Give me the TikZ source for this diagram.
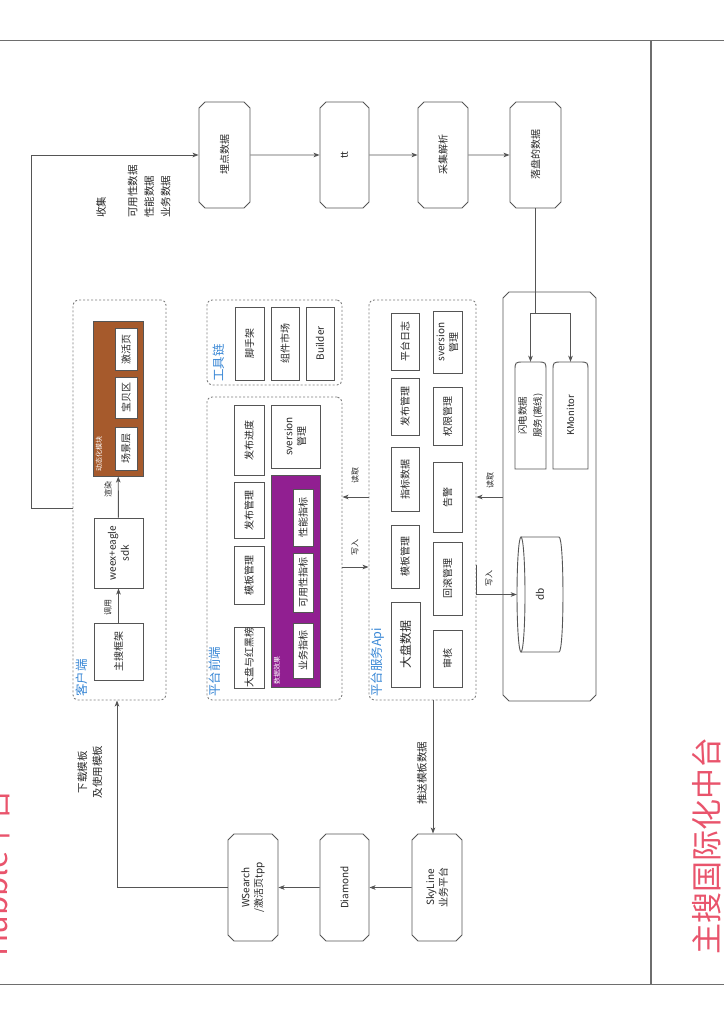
\documentclass[tikz,border=0pt]{standalone}
\usepackage{fontspec}
\setmainfont{Noto Sans CJK SC}
\usetikzlibrary{shapes.misc,arrows.meta,calc}
\definecolor{lc}{RGB}{85,85,85}
\definecolor{tc}{RGB}{40,40,40}
\definecolor{framec}{RGB}{110,110,110}
\definecolor{bluet}{RGB}{58,136,214}
\definecolor{redt}{RGB}{233,84,108}
\definecolor{brownf}{RGB}{166,90,44}
\definecolor{purplef}{RGB}{145,31,145}
\definecolor{grp}{RGB}{125,125,125}
\begin{document}
\begin{tikzpicture}[x=1pt,y=-1pt,
 line/.style={draw=lc, line width=0.9pt},
 arr/.style={line, -{Stealth[length=6pt,width=4.5pt,inset=1.5pt]}},
 txt/.style={text=tc, font=\fontsize{10}{13}\selectfont, align=center, inner sep=0pt},
 rbox/.style={txt, draw=lc, line width=0.9pt, rotate=90, fill=white},
 cbox/.style={rbox, chamfered rectangle, chamfered rectangle xsep=3pt, chamfered rectangle ysep=3pt},
 grpbox/.style={draw=grp, line width=0.9pt, dash pattern=on 2pt off 2pt, rounded corners=5pt, inner sep=0pt},
 glabel/.style={rotate=90, anchor=north west, inner sep=0pt, text=bluet, font=\fontsize{12.5}{14}\selectfont},
 lbl/.style={txt, rotate=90, font=\fontsize{8}{10}\selectfont},
 blbl/.style={txt, rotate=90, font=\fontsize{10.5}{15}\selectfont},
 wlbl/.style={rotate=90, anchor=west, inner sep=0pt, text=white, font=\fontsize{7}{8}\selectfont},
 title/.style={rotate=90, inner sep=0pt, text=redt, font=\fontsize{31}{34}\selectfont}
]
\useasboundingbox (0,0) rectangle (724,1024);
\fill[white] (0,0) rectangle (724,1024);
% frame
\draw[draw=framec, line width=1pt] (0,41) -- (724,41);
\draw[draw=framec, line width=1pt] (0,984) -- (724,984);
\draw[draw=framec, line width=1.4pt] (651,41) -- (651,984);
% titles
\node[title] (t1) at (707,846) {主搜国际化中台};
\begin{scope}
\clip (0,0) rectangle (724,1024);
\node[title] (t2) at (-4,873) {Hubble平台};
\end{scope}

% groups
\node[grpbox, minimum width=93pt, minimum height=400pt] (khd) at (119.5,500) {};
\node[grpbox, minimum width=135pt, minimum height=85pt] (gjl) at (274.5,342.5) {};
\node[grpbox, minimum width=135pt, minimum height=303pt] (ptqd) at (274.5,548.5) {};
\node[grpbox, minimum width=107pt, minimum height=400pt] (api) at (422.5,500) {};
\node[inner sep=0pt, minimum width=93pt, minimum height=409pt] (big) at (549.5,496.5) {};
\draw[line] (509,292) -- (590,292) -- (596,298) -- (596,695) -- (590,701) -- (509,701) -- (503,695) -- (503,298) -- cycle;

\node[glabel] (g1) at (76,697) {客户端};
\node[glabel] (g2) at (209,697) {平台前端};
\node[glabel] (g3) at (213,382) {工具链};
\node[glabel] (g4) at (371,697) {平台服务Api};

% top row
\node[cbox, minimum width=106pt, minimum height=51pt] (md) at (224.5,155) {埋点数据};
\node[cbox, minimum width=106pt, minimum height=49pt] (tt) at (344.5,155) {tt};
\node[cbox, minimum width=106pt, minimum height=50pt] (cj) at (443,155) {采集解析};
\node[cbox, minimum width=106pt, minimum height=51pt] (lp) at (535.5,155) {落盘的数据};

% bottom row
\node[cbox, minimum width=107pt, minimum height=50pt] (ws) at (253,887.5) {WSearch\\/激活页tpp};
\node[cbox, minimum width=107pt, minimum height=49pt] (dm) at (344.5,887.5) {Diamond};
\node[cbox, minimum width=107pt, minimum height=50pt] (sk) at (437,887.5) {SkyLine\\业务平台};

% client
\node[rbox, minimum width=57pt, minimum height=49pt] (zs) at (118.5,651.5) {主搜框架};
\node[rbox, minimum width=70pt, minimum height=49pt] (wx) at (118.5,553) {weex+eagle\\sdk};
\node[rbox, fill=brownf, minimum width=155pt, minimum height=50pt] (dt) at (118,398.5) {};
\node[wlbl] (dtl) at (99,472) {动态化模块};
\node[rbox, minimum width=43pt, minimum height=22pt] (cjc) at (126,448.5) {场景层};
\node[rbox, minimum width=41pt, minimum height=22pt] (bbq) at (126,397.5) {宝贝区};
\node[rbox, minimum width=42pt, minimum height=22pt] (jhy) at (126,349) {激活页};

% toolchain
\node[rbox, minimum width=73pt, minimum height=29pt] (jsj) at (249.5,343.5) {脚手架};
\node[rbox, minimum width=73pt, minimum height=28pt] (zjsc) at (285,343.5) {组件市场};
\node[rbox, minimum width=73pt, minimum height=28pt] (bld) at (320,343.5) {Builder};

% front end
\node[rbox, minimum width=70pt, minimum height=30pt] (fbjd) at (249,440) {发布进度};
\node[rbox, minimum width=56pt, minimum height=30pt] (fbgl) at (249,510) {发布管理};
\node[rbox, minimum width=58pt, minimum height=30pt] (mbgl) at (249,575) {模板管理};
\node[rbox, minimum width=61pt, minimum height=30pt] (dphb) at (249,657.5) {大盘与红黑榜};
\node[rbox, minimum width=63pt, minimum height=49pt] (svf) at (295.5,436.5) {sversion\\管理};
\node[rbox, fill=purplef, minimum width=212pt, minimum height=49pt] (sjxg) at (295.5,581) {};
\node[wlbl] (sjl) at (277,685) {数据效果};
\node[rbox, minimum width=57pt, minimum height=20pt] (xnzb) at (303,517.5) {性能指标};
\node[rbox, minimum width=59pt, minimum height=20pt] (kyzb) at (303,582.5) {可用性指标};
\node[rbox, minimum width=55pt, minimum height=20pt] (ywzb) at (303,650.5) {业务指标};

% api
\node[rbox, minimum width=57pt, minimum height=28pt] (ptrz) at (405,341.5) {平台日志};
\node[rbox, minimum width=57pt, minimum height=28pt] (fbgl2) at (405,406.5) {发布管理};
\node[rbox, minimum width=64pt, minimum height=28pt] (zbsj) at (405,479) {指标数据};
\node[rbox, minimum width=63pt, minimum height=28pt] (mbgl2) at (405,556.5) {模板管理};
\node[rbox, minimum width=85pt, minimum height=29pt, font=\fontsize{12}{14}\selectfont] (dpsj) at (405.5,644.5) {大盘数据};
\node[rbox, minimum width=62pt, minimum height=29pt] (sva) at (447.5,342) {sversion\\管理};
\node[rbox, minimum width=58pt, minimum height=29pt] (qxgl) at (447.5,416) {权限管理};
\node[rbox, minimum width=70pt, minimum height=29pt] (gj) at (447.5,497) {告警};
\node[rbox, minimum width=73pt, minimum height=29pt] (hggl) at (447.5,578.5) {回滚管理};
\node[rbox, minimum width=57pt, minimum height=29pt] (sh) at (447.5,658.5) {审核};

% storage
\node[txt, rotate=90, font=\fontsize{9.5}{15}\selectfont, minimum width=107pt, minimum height=31pt] (sd) at (530.5,415.5) {闪电数据\\服务(离线)};
\draw[line] (515,469) -- (515,371) .. controls (515,362) .. (524,362) -- (537,362) .. controls (546,362) .. (546,371) -- (546,469) -- cycle;
\node[txt, rotate=90, font=\fontsize{9.5}{12}\selectfont, minimum width=107pt, minimum height=35pt] (km) at (570.5,415.5) {KMonitor};
\draw[line] (553,469) -- (553,371) .. controls (553,362) .. (562,362) -- (579,362) .. controls (588,362) .. (588,371) -- (588,469) -- cycle;
\node[txt, rotate=90, minimum width=115pt, minimum height=46pt] (db) at (540,594.5) {db};
\draw[line] (521,537) -- (559,537) .. controls (564.3,537) and (564.3,652) .. (559,652) -- (521,652);
\draw[line] (521,594.5) ellipse [x radius=4, y radius=57.5];

% connectors
\coordinate (c1) at (31,508);
\draw[arr] (khd.west |- c1) -- (c1) |- (md);
\draw[arr] (md) -- (tt);
\draw[arr] (tt) -- (cj);
\draw[arr] (cj) -- (lp);
\coordinate (sp) at (535.5,313);
\draw[line] (lp.west) -- (sp);
\draw[arr] (sp) -| (sd);
\draw[arr] (sp) -| (km);
\draw[arr] (zs) -- (wx);
\draw[arr] (wx) -- (dt);
\coordinate (r1) at (0,497);
\coordinate (w1) at (0,567);
\draw[arr] (api.west |- r1) -- (ptqd.east |- r1);
\draw[arr] (ptqd.east |- w1) -- (api.west |- w1);
\draw[arr] (big.west |- r1) -- (api.east |- r1);
\coordinate (w2) at (476,565);
\draw[arr] (w2) |- (db);
\coordinate (px) at (433,0);
\draw[arr] (api.south -| px) -- (sk.east -| px);
\draw[arr] (sk) -- (dm);
\draw[arr] (dm) -- (ws);
\coordinate (kx) at (117,0);
\draw[arr] (ws.north) -| (khd.south -| kx);

% labels
\node[lbl] (lb1) at (108,607) {调用};
\node[lbl] (lb2) at (108,489) {渲染};
\node[lbl] (lb3) at (355,475) {读取};
\node[lbl] (lb4) at (355,547) {写入};
\node[lbl] (lb5) at (490,480) {读取};
\node[lbl] (lb6) at (489,578) {写入};
\node[blbl] (lb7) at (422,773) {推送模板数据};
\node[blbl] (lb8) at (90,772) {下载模板\\及使用模板};
\node[txt, rotate=90, anchor=north west, align=left, font=\fontsize{10.5}{16.5}\selectfont] (lb9) at (96,218) {收集\\[15pt]可用性数据\\性能数据\\业务数据};
\end{tikzpicture}
\end{document}
